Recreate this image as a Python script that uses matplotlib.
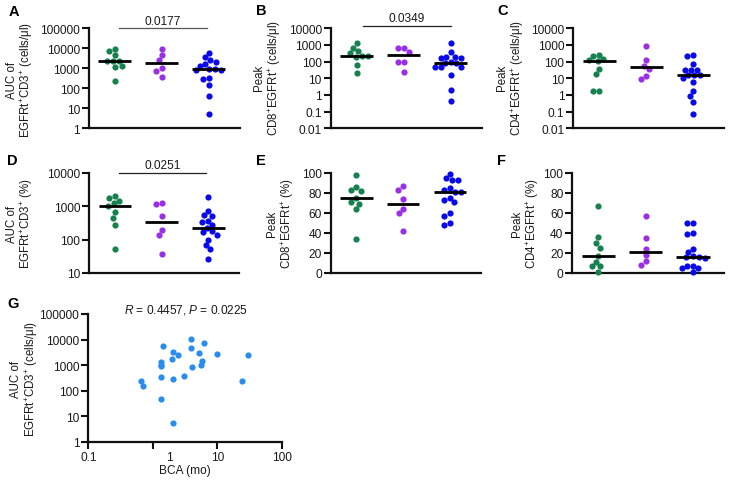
import numpy as np
import matplotlib
matplotlib.use('Agg')
import matplotlib.pyplot as plt
from matplotlib.ticker import NullLocator
from matplotlib.transforms import ScaledTranslation

plt.rcParams['font.family'] = ['Liberation Sans', 'DejaVu Sans']
plt.rcParams['mathtext.fontset'] = 'custom'
plt.rcParams['mathtext.rm'] = 'Liberation Sans'
plt.rcParams['mathtext.it'] = 'Liberation Sans:italic'
plt.rcParams['mathtext.bf'] = 'Liberation Sans:bold'

# ---------------- data ----------------
group_colors = ['#17804f', '#9a30e6', '#0a0ae8']
g_color = '#2a8cec'

A_green = [9500, 7600, 4600, 2400, 2400, 2400, 1350, 1200, 240]
A_purple = [9500, 4600, 2600, 1000, 760, 355]
A_blue = [5600, 3500, 2600, 2000, 1700, 1350, 920, 920, 850, 800, 320, 280, 150, 43, 5.2]

B_green = [1300, 660, 450, 316, 230, 230, 200, 66, 21]
B_purple = [630, 630, 400, 100, 100, 23]
B_blue = [1300, 360, 200, 200, 165, 165, 100, 83, 80, 46, 46, 46, 16.5, 2, 0.42]

C_green = [260, 230, 145, 125, 115, 36, 18, 1.8, 1.8]
C_purple = [830, 125, 57, 36, 13, 9]
C_blue = [260, 210, 72, 33, 33, 33, 16, 16, 16, 10, 6.3, 1.8, 0.9, 0.4, 0.072]

D_green = [2000, 1780, 1480, 1260, 1050, 660, 450, 280, 52]
D_purple = [1230, 1170, 500, 200, 140, 37]
D_blue = [1860, 740, 560, 525, 370, 330, 275, 224, 178, 166, 140, 100, 69, 52, 26]

E_green = [98, 85.7, 83.3, 82.3, 74.7, 71.3, 69.3, 64, 34]
E_purple = [86.7, 83.3, 74, 64, 60, 42.3]
E_blue = [99, 94.7, 93.3, 93.3, 85, 83.3, 81.3, 81.3, 74.7, 73, 70.7, 59.7, 57.3, 50, 48]

F_green = [66.7, 35.7, 30, 25.3, 16.7, 11.3, 7.3, 6.7, 0.7]
F_purple = [57, 35, 24, 18, 12, 8]
F_blue = [50, 50, 39.7, 38.7, 24, 21.3, 16.7, 16, 15.7, 15, 7.3, 7.3, 4.7, 4.7, 1.3]

G_bca = [0.665, 0.70, 1.46, 1.36, 1.36, 1.36, 1.36, 1.36, 2.09, 2.0, 2.5, 2.04,
         2.09, 3.0, 3.87, 3.87, 4.1, 5.25, 5.6, 5.9, 6.3, 10, 24.3, 30]
G_auc = [230, 156, 5400, 1290, 1000, 890, 350, 45, 3170, 1730, 2470, 275,
         5.2, 385, 10100, 4800, 810, 2960, 1000, 1400, 7100, 2700, 245, 2400]

log_ticks_A = [1, 10, 100, 1000, 10000, 100000]
log_labels_A = ['1', '10', '100', '1000', '10000', '100000']
log_ticks_B = [0.01, 0.1, 1, 10, 100, 1000, 10000]
log_labels_B = ['0.01', '0.1', '1', '10', '100', '1000', '10000']
log_ticks_D = [10, 100, 1000, 10000]
log_labels_D = ['10', '100', '1000', '10000']
lin_ticks = [0, 20, 40, 60, 80, 100]
lin_labels = ['0', '20', '40', '60', '80', '100']
G_xticks = [0.1, 1, 10, 100]
G_xlabels = ['0.1', '1', '10', '100']

# ---------------- figure ----------------
W, H = 737, 485
fig = plt.figure(figsize=(W / 100, H / 100), dpi=100)
TXT = '#1a1a1a'
FS = 8.6
FSL = 8.3


def add_ax(l, r, t, b):
    return fig.add_axes([l / W, 1 - b / H, (r - l) / W, (b - t) / H])


def style(ax):
    for s in ['top', 'right']:
        ax.spines[s].set_visible(False)
    for s in ['left', 'bottom']:
        ax.spines[s].set_linewidth(1.6)
        ax.spines[s].set_color('#111111')
    ax.tick_params(axis='both', direction='out', length=5, width=1.5,
                   labelsize=FS, colors='#111111', labelcolor=TXT, pad=1.5)
    ax.set_facecolor('none')


def swarm(ax, x0, vals, d=6.0):
    vals = np.asarray(vals, float)
    pts = ax.transData.transform(np.column_stack([np.full(len(vals), x0), vals]))
    ys = pts[:, 1]
    order = np.argsort(-ys)
    placed = []
    offs = np.zeros(len(vals))
    for i in order:
        y = ys[i]
        cands = [0.0]
        for px, py in placed:
            dy = abs(y - py)
            if dy < d:
                dx = np.sqrt(d * d - dy * dy)
                cands += [px + dx, px - dx]
        cands = sorted(cands, key=lambda c: (abs(c), c))
        for c in cands:
            if all((c - px) ** 2 + (y - py) ** 2 >= d * d - 1e-6 for px, py in placed):
                offs[i] = c
                placed.append((c, y))
                break
    bbox = ax.get_window_extent()
    x0l, x1l = ax.get_xlim()
    return x0 + offs * (x1l - x0l) / bbox.width


def dotplot(ax, groups, yscale, ylim, ticks, labels):
    ax.set_xlim(-0.55, 2.66)
    ax.set_yscale(yscale)
    ax.set_ylim(*ylim)
    ax.set_yticks(ticks)
    ax.set_yticklabels(labels)
    ax.yaxis.set_minor_locator(NullLocator())
    ax.set_xticks([])
    style(ax)
    for k, vals in enumerate(groups):
        xs = swarm(ax, k, vals)
        ax.scatter(xs, vals, s=20, color=group_colors[k], linewidths=0, zorder=3,
                   clip_on=False)
        med = np.median(vals)
        ax.plot([k - 0.35, k + 0.35], [med, med], color='black', lw=2.0, zorder=4,
                solid_capstyle='butt')


def sig(ax, x0, x1, y, text, color='#555555'):
    ax.plot([x0, x1], [y, y], color=color, lw=0.9, clip_on=False)
    ax.annotate(text, xy=((x0 + x1) / 2, y), xytext=(0, 1.2), textcoords='offset points',
                ha='center', va='bottom', fontsize=FS, color=TXT, annotation_clip=False)


def ylab(xc, yc, text):
    fig.text(xc / W, 1 - yc / H, text, rotation=90, ha='center', va='center',
             fontsize=FSL, color=TXT, multialignment='center', linespacing=1.1)


def letter(x, y, t):
    fig.text(x / W, 1 - y / H, t, fontsize=10.5, fontweight='bold', ha='left', va='center',
             color='black')


axA = add_ax(89, 240, 29.3, 129.3)
axB = add_ax(330.7, 481.7, 29.3, 129.3)
axC = add_ax(573.3, 724.3, 29.3, 129.3)
axD = add_ax(89.3, 239, 174, 274)
axE = add_ax(330.7, 480.7, 174, 274)
axF = add_ax(572.3, 724.3, 174, 274)
axG = add_ax(88.3, 281.7, 315, 442.7)

dotplot(axA, [A_green, A_purple, A_blue], 'log', (1, 1e5), log_ticks_A, log_labels_A)
dotplot(axB, [B_green, B_purple, B_blue], 'log', (0.01, 1e4), log_ticks_B, log_labels_B)
dotplot(axC, [C_green, C_purple, C_blue], 'log', (0.01, 1e4), log_ticks_B, log_labels_B)
dotplot(axD, [D_green, D_purple, D_blue], 'log', (10, 1e4), log_ticks_D, log_labels_D)
dotplot(axE, [E_green, E_purple, E_blue], 'linear', (0, 100), lin_ticks, lin_labels)
dotplot(axF, [F_green, F_purple, F_blue], 'linear', (0, 100), lin_ticks, lin_labels)

sig(axA, 0.08, 1.95, 1e5, '0.0177')
sig(axB, 0.14, 2.01, 1.45e4, '0.0349', color='#222222')
sig(axD, 0.08, 1.95, 1e4, '0.0251', color='#222222')

# panel G
axG.set_xscale('log')
axG.set_yscale('log')
axG.set_xlim(0.1, 100)
axG.set_ylim(1, 1e5)
axG.set_xticks(G_xticks)
axG.set_xticklabels(G_xlabels)
axG.set_yticks(log_ticks_A)
axG.set_yticklabels(log_labels_A)
axG.xaxis.set_minor_locator(NullLocator())
axG.yaxis.set_minor_locator(NullLocator())
style(axG)
# the "1" label sits a little right of its tick in the reference
lab1 = axG.get_xticklabels()[1]
lab1.set_transform(lab1.get_transform() + ScaledTranslation(0.17, 0, fig.dpi_scale_trans))
axG.scatter(G_bca, G_auc, s=20, color=g_color, linewidths=0, zorder=3, clip_on=False)
axG.set_xlabel('BCA (mo)', fontsize=FS, color=TXT, labelpad=1)
fig.text(186 / W, 1 - 310 / H, r'$R$ = 0.4457, $P$ = 0.0225', ha='center', va='center',
         fontsize=FS, color=TXT)

# y labels
ylab(20.5, 80, 'AUC of\nEGFRt$^{+}$CD3$^{+}$ (cells/μl)')
ylab(268, 78, 'Peak\nCD8$^{+}$EGFRt$^{+}$ (cells/μl)')
ylab(511, 78, 'Peak\nCD4$^{+}$EGFRt$^{+}$ (cells/μl)')
ylab(20.5, 224, 'AUC of\nEGFRt$^{+}$CD3$^{+}$ (%)')
ylab(281, 224, 'Peak\nCD8$^{+}$EGFRt$^{+}$ (%)')
ylab(526, 224, 'Peak\nCD4$^{+}$EGFRt$^{+}$ (%)')
ylab(25, 379, 'AUC of\nEGFRt$^{+}$CD3$^{+}$ (cells/μl)')

letter(9, 12, 'A')
letter(256, 11, 'B')
letter(497, 11, 'C')
letter(7, 161, 'D')
letter(256, 161, 'E')
letter(497, 161, 'F')
letter(7, 304, 'G')

fig.savefig('out.png', dpi=100)
